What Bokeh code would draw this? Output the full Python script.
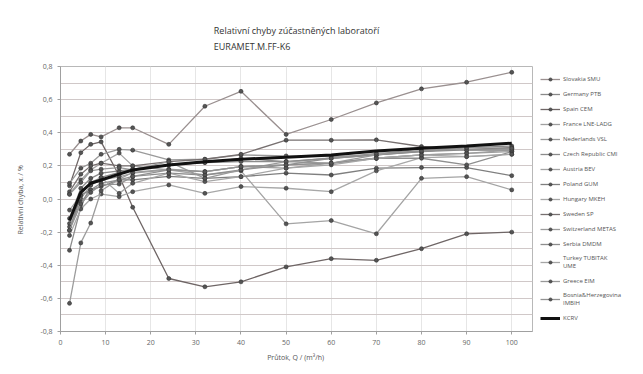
from bokeh.plotting import figure
from bokeh.models import Legend, LegendItem, FixedTicker, Range1d, Title
from bokeh.embed import file_html
from bokeh.resources import INLINE

flow = [2, 4.5, 6.7, 9, 13, 16, 24, 32, 40, 50, 60, 70, 80, 90, 100]

labs = [
    "Slovakia SMU", "Germany PTB", "Spain CEM", "France LNE-LADG", "Nederlands VSL",
    "Czech Republic CMI", "Austria BEV", "Poland GUM", "Hungary MKEH", "Sweden SP",
    "Switzerland METAS", "Serbia DMDM", "Turkey TUBITAK\nUME", "Greece EIM",
    "Bosnia&Herzegovina\nIMBIH",
]

slovakia = [0.27, 0.35, 0.39, 0.375, 0.43, 0.43, 0.33, 0.56, 0.65, 0.39, 0.48, 0.58, 0.665, 0.705, 0.765]
germany = [-0.117, 0.065, 0.125, 0.156, 0.17, 0.18, 0.206, 0.22, 0.245, 0.226, 0.246, 0.266, 0.286, 0.31, 0.32]
spain = [0.08, 0.28, 0.33, 0.345, 0.14, -0.05, -0.48, -0.53, -0.50, -0.41, -0.36, -0.37, -0.30, -0.21, -0.20]
france = [-0.148, 0.0, 0.085, 0.115, 0.134, 0.156, 0.176, 0.165, 0.196, 0.186, 0.216, 0.246, 0.266, 0.276, 0.296]
nederlands = [0.095, 0.186, 0.216, 0.27, 0.30, 0.295, 0.236, 0.24, 0.266, 0.26, 0.256, 0.266, 0.29, 0.30, 0.306]
czech = [-0.31, -0.05, 0.085, 0.13, 0.16, 0.18, 0.206, 0.22, 0.226, 0.226, 0.246, 0.266, 0.286, 0.296, 0.296]
austria = [0.03, 0.115, 0.176, 0.216, 0.277, 0.2, 0.176, 0.145, 0.17, -0.15, -0.13, -0.21, 0.125, 0.135, 0.055]
poland = [-0.19, 0.024, 0.055, 0.075, 0.115, 0.115, 0.136, 0.125, 0.135, 0.156, 0.145, 0.186, 0.19, 0.19, 0.141]
hungary = [-0.22, -0.06, 0.0, 0.03, 0.014, 0.044, 0.085, 0.034, 0.075, 0.065, 0.044, 0.17, 0.25, 0.256, 0.27]
sweden = [0.044, 0.15, 0.2, 0.216, 0.2, 0.2, 0.226, 0.24, 0.27, 0.355, 0.355, 0.357, 0.317, 0.296, 0.31]
switzerland = [-0.63, -0.265, -0.145, 0.05, 0.12, 0.16, 0.18, 0.165, 0.196, 0.206, 0.216, 0.246, 0.266, 0.276, 0.286]
serbia = [-0.168, -0.02, 0.055, 0.095, 0.115, 0.136, 0.156, 0.145, 0.176, 0.206, 0.216, 0.246, 0.246, 0.206, 0.286]
turkey = [-0.067, 0.024, 0.10, 0.13, 0.034, 0.095, 0.156, 0.105, 0.135, 0.186, 0.206, 0.246, 0.266, 0.256, 0.27]
greece = [0.028, 0.1, 0.17, 0.18, 0.19, 0.176, 0.226, 0.125, 0.176, 0.226, 0.216, 0.266, 0.306, 0.296, 0.296]
bosnia = [-0.188, -0.03, 0.04, 0.085, 0.09, 0.136, 0.176, 0.165, 0.196, 0.206, 0.246, 0.276, 0.29, 0.31, 0.306]
kcrv = [-0.13, 0.04, 0.095, 0.115, 0.15, 0.175, 0.205, 0.225, 0.24, 0.252, 0.266, 0.29, 0.307, 0.32, 0.337]

series = [slovakia, germany, spain, france, nederlands, czech, austria, poland,
          hungary, sweden, switzerland, serbia, turkey, greece, bosnia]
line_colors = ["#9a9090", "#8a8a8a", "#6f6666", "#a0a0a0", "#9a9a9a", "#8c8c8c", "#a4a4a4",
               "#7f7f7f", "#a8a8a8", "#777070", "#9c9c9c", "#8e8e8e", "#a6a6a6", "#999999", "#929292"]

y_ticks = [-0.8, -0.6, -0.4, -0.2, 0.0, 0.2, 0.4, 0.6, 0.8]
y_tick_labels = ["-0,8", "-0,6", "-0,4", "-0,2", "0,0", "0,2", "0,4", "0,6", "0,8"]
x_ticks = [0, 10, 20, 30, 40, 50, 60, 70, 80, 90, 100]

p = figure(frame_width=472, frame_height=265, output_backend="svg", toolbar_location=None,
           x_range=Range1d(0, 104.6), y_range=Range1d(-0.8, 0.8),
           min_border_left=60, min_border_right=0, min_border_bottom=35, min_border_top=66)

p.add_layout(Title(text="Relativní chyby zúčastněných laboratoří\nEURAMET.M.FF-K6", align="center",
                   text_font="Open Sans", text_font_size="9px", text_font_style="normal",
                   text_color="#333333", text_line_height=1.2, standoff=27), "above")

p.outline_line_color = "#b8b8b8"
p.xgrid.ticker = FixedTicker(ticks=x_ticks)
p.xgrid.grid_line_color = "#e6e6e6"
p.ygrid.ticker = FixedTicker(ticks=[round(-0.8 + 0.1 * i, 1) for i in range(17)])
p.ygrid.grid_line_color = "#d0c8c8"

p.yaxis.ticker = FixedTicker(ticks=y_ticks)
p.yaxis.major_label_overrides = {t: l for t, l in zip(y_ticks, y_tick_labels)}
p.xaxis.ticker = FixedTicker(ticks=x_ticks)
for ax in (p.xaxis, p.yaxis):
    ax.axis_line_color = "#a0a0a0"
    ax.major_tick_line_color = "#a0a0a0"
    ax.minor_tick_line_color = None
    ax.major_tick_in = 0
    ax.major_tick_out = 3
    ax.major_label_text_font = "Open Sans"
    ax.major_label_text_font_size = "7px"
    ax.major_label_text_color = "#666666"
    ax.axis_label_text_font = "Open Sans"
    ax.axis_label_text_font_size = "7px"
    ax.axis_label_text_font_style = "normal"
    ax.axis_label_text_color = "#555555"
p.yaxis.axis_label = "Relativní chyba,  xᵢ / %"
p.yaxis.axis_label_standoff = 12
p.xaxis.axis_label = "Průtok,  Q / (m³/h)"

items = []
for name, ys, col in zip(labs, series, line_colors):
    r1 = p.line(flow, ys, line_color=col, line_width=1.3)
    r2 = p.scatter(flow, ys, size=4, fill_color="#555555", line_color="#333333", line_width=0.6)
    items.append(LegendItem(label=name, renderers=[r1, r2]))
rk = p.line(flow, kcrv, line_color="#111111", line_width=3)
items.append(LegendItem(label="KCRV", renderers=[rk]))

legend = Legend(items=items, border_line_color=None, location="top_left",
                background_fill_alpha=0, label_text_font="Open Sans",
                label_text_font_size="6px", label_text_color="#555555",
                label_text_line_height=1.1,
                glyph_width=20, glyph_height=8, label_height=9, spacing=6,
                padding=2, margin=8, label_standoff=3)
p.add_layout(legend, "right")

open("out.html", "w").write(file_html(p, INLINE))
